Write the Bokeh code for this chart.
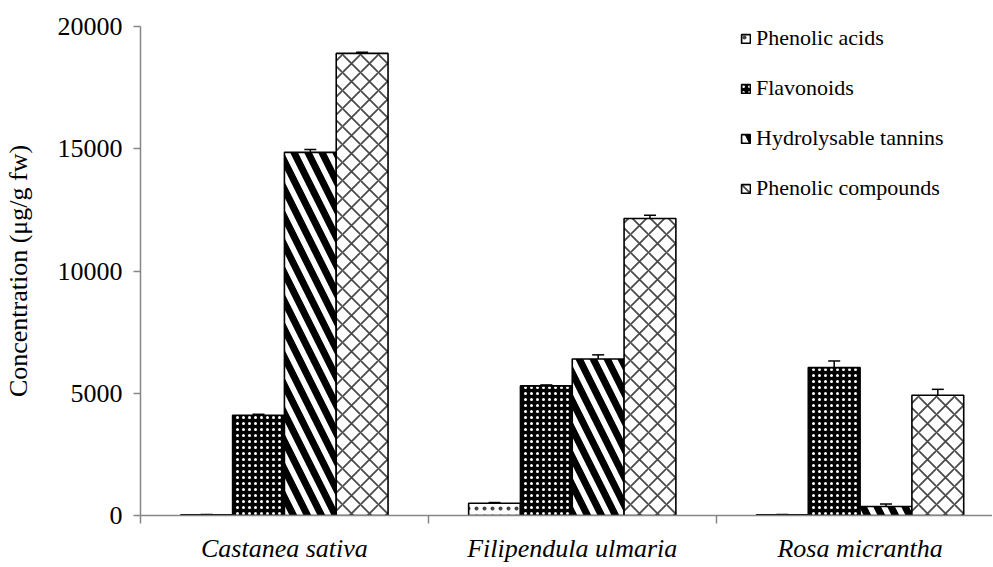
from bokeh.plotting import figure
from bokeh.models import (ColumnDataSource, Range1d, FixedTicker, Whisker, TeeHead,
                          Legend, LegendItem)
from bokeh.transform import dodge
from bokeh.embed import file_html
from bokeh.resources import INLINE

categories = ["Castanea sativa", "Filipendula ulmaria", "Rosa micrantha"]
series = ["Phenolic acids", "Flavonoids", "Hydrolysable tannins", "Phenolic compounds"]
phenolic_acids = [30, 500, 30]
phenolic_acids_err = [10, 30, 10]
flavonoids = [4100, 5300, 6050]
flavonoids_err = [40, 40, 270]
tannins = [14850, 6400, 370]
tannins_err = [120, 170, 100]
compounds = [18900, 12150, 4920]
compounds_err = [50, 130, 240]
y_ticks = [0, 5000, 10000, 15000, 20000]

values = [phenolic_acids, flavonoids, tannins, compounds]
errors = [phenolic_acids_err, flavonoids_err, tannins_err, compounds_err]
offsets = [-0.27, -0.09, 0.09, 0.27]
bar_w = 0.18
styles = [
    dict(fill_color="white", hatch_pattern=".", hatch_color="#444444", hatch_scale=8, hatch_weight=1),
    dict(fill_color="black", hatch_pattern=".", hatch_color="white", hatch_scale=6, hatch_weight=1),
    dict(fill_color="white", hatch_pattern="\\", hatch_color="black", hatch_scale=28, hatch_weight=7),
    dict(fill_color="white", hatch_pattern="x", hatch_color="#4a4a4a", hatch_scale=18, hatch_weight=1.8),
]

xc = [i + 0.5 for i in range(len(categories))]

p = figure(width=992, height=566, output_backend="svg", toolbar_location=None,
           x_range=Range1d(0, 2.96), y_range=Range1d(0, 20000),
           min_border_left=139, min_border_right=0, min_border_top=26, min_border_bottom=51)
p.outline_line_color = None
p.xgrid.visible = False
p.ygrid.visible = False
p.background_fill_color = "white"

FONT = "'Liberation Serif', 'Times New Roman', serif"
AX = "#868686"

items = []
for name, vals, errs, off, st in zip(series, values, errors, offsets, styles):
    src = ColumnDataSource(dict(x=xc, top=vals,
                                upper=[v + e for v, e in zip(vals, errs)],
                                lower=[v - e for v, e in zip(vals, errs)]))
    r = p.vbar(x=dodge("x", off), top="top", bottom=0, width=bar_w, source=src,
               line_color="black", line_width=1.6, **st)
    items.append(LegendItem(label=name, renderers=[r]))
    w = Whisker(base=dodge("x", off), upper="upper", lower="lower", source=src,
                line_color="black", line_width=1.5,
                upper_head=TeeHead(size=12, line_color="black", line_width=1.5),
                lower_head=TeeHead(size=12, line_color="black", line_width=1.5))
    p.add_layout(w)

# x axis
xa = p.xaxis[0]
xa.ticker = FixedTicker(ticks=xc, minor_ticks=[0, 1, 2, 3])
xa.major_label_overrides = {x: c for x, c in zip(xc, categories)}
xa.major_tick_line_color = None
xa.minor_tick_line_color = AX
xa.minor_tick_out = 8
xa.minor_tick_in = 0
xa.minor_tick_line_width = 1.5
xa.axis_line_color = AX
xa.axis_line_width = 1.5
xa.major_label_text_font = FONT
xa.major_label_text_font_style = "italic"
xa.major_label_text_font_size = "26px"
xa.major_label_text_color = "black"
xa.major_label_standoff = 10

ya = p.yaxis[0]
ya.ticker = FixedTicker(ticks=y_ticks, minor_ticks=[])
ya.axis_line_color = AX
ya.axis_line_width = 1.5
ya.major_tick_line_color = AX
ya.major_tick_line_width = 1.5
ya.major_tick_out = 7
ya.major_tick_in = 0
ya.minor_tick_line_color = None
ya.major_label_text_font = FONT
ya.major_label_text_font_size = "26px"
ya.major_label_text_color = "black"
ya.major_label_standoff = 11
ya.axis_label = "Concentration (μg/g fw)"
ya.axis_label_text_font = FONT
ya.axis_label_text_font_style = "normal"
ya.axis_label_text_font_size = "26px"
ya.axis_label_text_color = "black"
ya.axis_label_standoff = 22

legend = Legend(items=items, location=(600, 314), orientation="vertical",
                label_text_font=FONT, label_text_font_size="22px", label_text_color="black",
                glyph_width=11, glyph_height=11, label_height=22, label_standoff=5,
                spacing=24, padding=0, margin=0,
                border_line_color=None, background_fill_alpha=0)
p.add_layout(legend)

open("out.html", "w").write(file_html(p, INLINE))
